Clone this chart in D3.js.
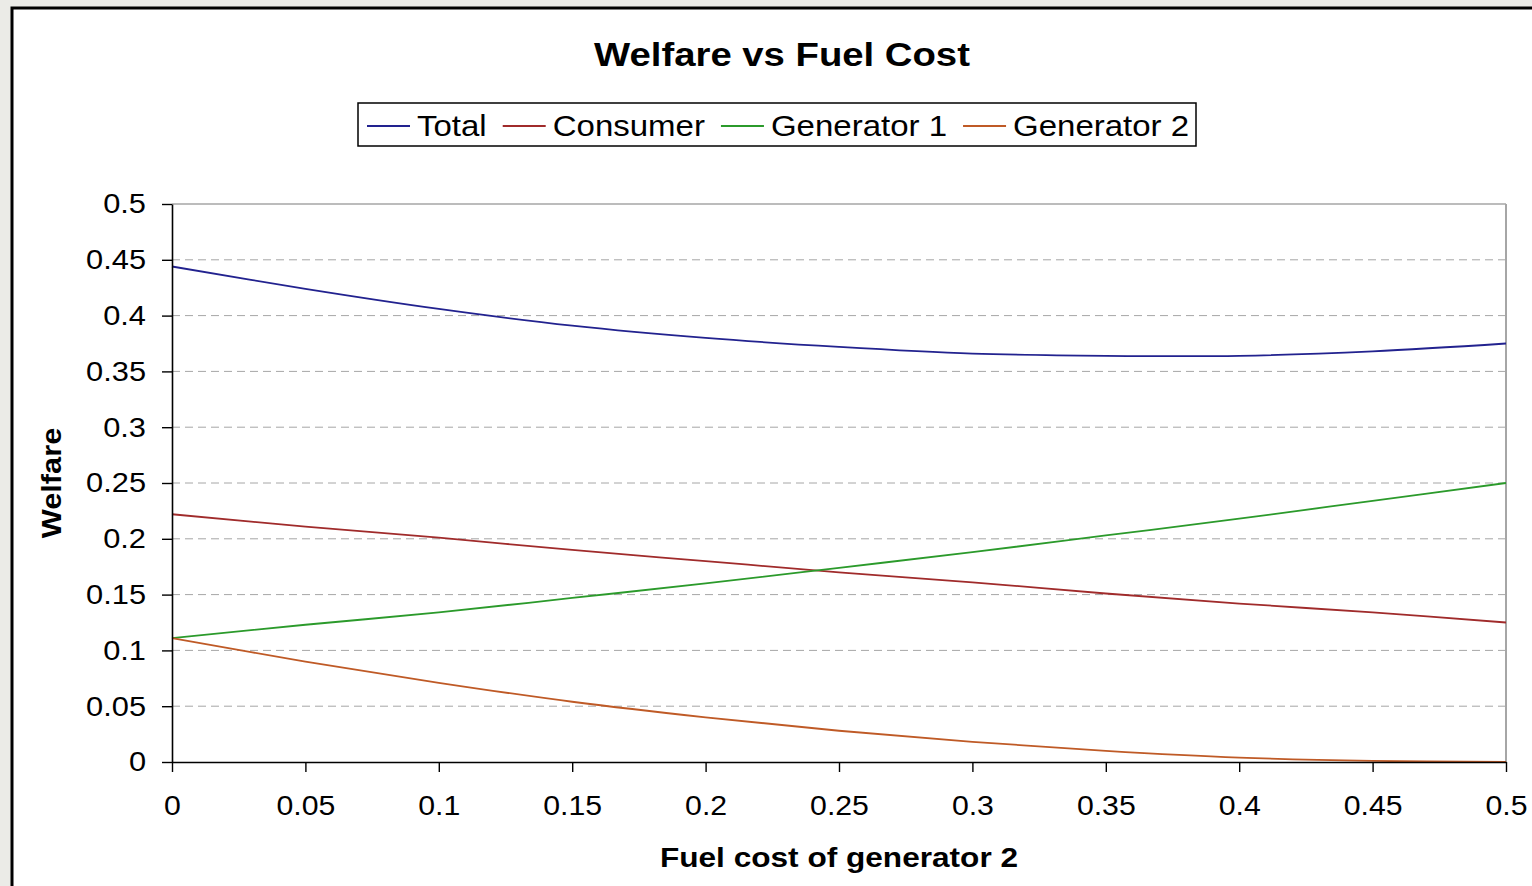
<!DOCTYPE html>
<html>
<head>
<meta charset="utf-8">
<script src="https://cdn.jsdelivr.net/npm/d3@7"></script>
<style>
  html, body { margin: 0; padding: 0; background: #ebebe7; }
  svg { display: block; }
  text { font-family: "Liberation Sans", Arial, sans-serif; }
</style>
</head>
<body>
<div id="chart"></div>
<script>
// values
const fuelCost = [0, 0.05, 0.1, 0.15, 0.2, 0.25, 0.3, 0.35, 0.4, 0.45, 0.5];
const total      = [0.444, 0.424, 0.406, 0.391, 0.380, 0.372, 0.366, 0.364, 0.364, 0.368, 0.375];
const consumer   = [0.222, 0.211, 0.201, 0.190, 0.180, 0.170, 0.161, 0.151, 0.142, 0.134, 0.125];
const generator1 = [0.111, 0.123, 0.134, 0.147, 0.160, 0.174, 0.188, 0.203, 0.218, 0.234, 0.250];
const generator2 = [0.111, 0.090, 0.071, 0.054, 0.040, 0.028, 0.018, 0.010, 0.004, 0.001, 0.000];
const seriesNames = ["Total", "Consumer", "Generator 1", "Generator 2"];
const seriesColors = ["#22228f", "#a02b2b", "#2b9a2b", "#bf5a26"];
const yTicks = [0, 0.05, 0.1, 0.15, 0.2, 0.25, 0.3, 0.35, 0.4, 0.45, 0.5];
const xTicks = [0, 0.05, 0.1, 0.15, 0.2, 0.25, 0.3, 0.35, 0.4, 0.45, 0.5];

const W = 1532, H = 886;
const plot = { left: 172, right: 1506, top: 204, bottom: 762 };

const svg = d3.select("#chart").append("svg").attr("width", W).attr("height", H);

// widen text a little, the original font renders wider than Arial
function stretch(sel, k) {
  sel.each(function () {
    const len = this.getComputedTextLength();
    d3.select(this).attr("textLength", len * k).attr("lengthAdjust", "spacingAndGlyphs");
  });
}

// chart frame
svg.append("rect").attr("x", 12).attr("y", 8).attr("width", W).attr("height", H)
  .attr("fill", "#fff").attr("stroke", "#000").attr("stroke-width", 3);

const x = d3.scaleLinear().domain([0, 0.5]).range([plot.left, plot.right]);
const y = d3.scaleLinear().domain([0, 0.5]).range([plot.bottom, plot.top]);

// gridlines
svg.append("g").selectAll("line").data(yTicks.filter(d => d > 0 && d < 0.5)).join("line")
  .attr("x1", plot.left).attr("x2", plot.right)
  .attr("y1", d => y(d)).attr("y2", d => y(d))
  .attr("stroke", "#a6a6a6").attr("stroke-width", 1).attr("stroke-dasharray", "8,5");

// top and right border of plot area
svg.append("line").attr("x1", plot.left).attr("x2", plot.right).attr("y1", y(0.5)).attr("y2", y(0.5))
  .attr("stroke", "#a6a6a6").attr("stroke-width", 1.5);
svg.append("line").attr("x1", plot.right).attr("x2", plot.right).attr("y1", plot.top).attr("y2", plot.bottom)
  .attr("stroke", "#a6a6a6").attr("stroke-width", 2);

// series
const allSeries = [total, consumer, generator1, generator2];
const line = d3.line().x((d, i) => x(fuelCost[i])).y(d => y(d)).curve(d3.curveCatmullRom.alpha(0.5));
svg.append("g").selectAll("path").data(allSeries).join("path")
  .attr("d", line).attr("fill", "none")
  .attr("stroke", (d, i) => seriesColors[i]).attr("stroke-width", 1.8);

// axes
const yAxis = svg.append("g").attr("transform", `translate(${plot.left},0)`)
  .call(d3.axisLeft(y).tickValues(yTicks).tickFormat(d3.format("")).tickSize(10).tickPadding(16).tickSizeOuter(0));
const xAxis = svg.append("g").attr("transform", `translate(0,${plot.bottom})`)
  .call(d3.axisBottom(x).tickValues(xTicks).tickFormat(d3.format("")).tickSize(10).tickPadding(23).tickSizeOuter(0));

[yAxis, xAxis].forEach(a => {
  a.select(".domain").attr("stroke", "#000").attr("stroke-width", 1.6);
  a.selectAll(".tick line").attr("stroke", "#000").attr("stroke-width", 1.4);
  a.selectAll(".tick text").attr("fill", "#000").style("font-size", "28px")
    .style("font-family", '"Liberation Sans", Arial, sans-serif');
});
stretch(yAxis.selectAll(".tick text"), 1.1);
stretch(xAxis.selectAll(".tick text"), 1.08);

// title
const title = svg.append("text").attr("x", 782).attr("y", 66).attr("text-anchor", "middle")
  .style("font-size", "33px").style("font-weight", "bold").text("Welfare vs Fuel Cost");
stretch(title, 1.16);

// axis titles
const xTitle = svg.append("text").attr("x", 839).attr("y", 867).attr("text-anchor", "middle")
  .style("font-size", "27px").style("font-weight", "bold").text("Fuel cost of generator 2");
stretch(xTitle, 1.17);

const yTitle = svg.append("text").attr("transform", "translate(61,483) rotate(-90)").attr("text-anchor", "middle")
  .style("font-size", "28px").style("font-weight", "bold").text("Welfare");
stretch(yTitle, 1.1);

// legend
const legend = svg.append("g");
legend.append("rect").attr("x", 358).attr("y", 103).attr("width", 838).attr("height", 43)
  .attr("fill", "#fff").attr("stroke", "#000").attr("stroke-width", 1.5);
let lx = 367;
seriesNames.forEach((name, i) => {
  legend.append("line").attr("x1", lx).attr("x2", lx + 43).attr("y1", 126).attr("y2", 126)
    .attr("stroke", seriesColors[i]).attr("stroke-width", 1.8);
  const t = legend.append("text").attr("x", lx + 50).attr("y", 136)
    .style("font-size", "30px").text(name);
  const len = t.node().getComputedTextLength() * 1.1;
  t.attr("textLength", len).attr("lengthAdjust", "spacingAndGlyphs");
  lx += 50 + len + 16;
});
</script>
</body>
</html>
